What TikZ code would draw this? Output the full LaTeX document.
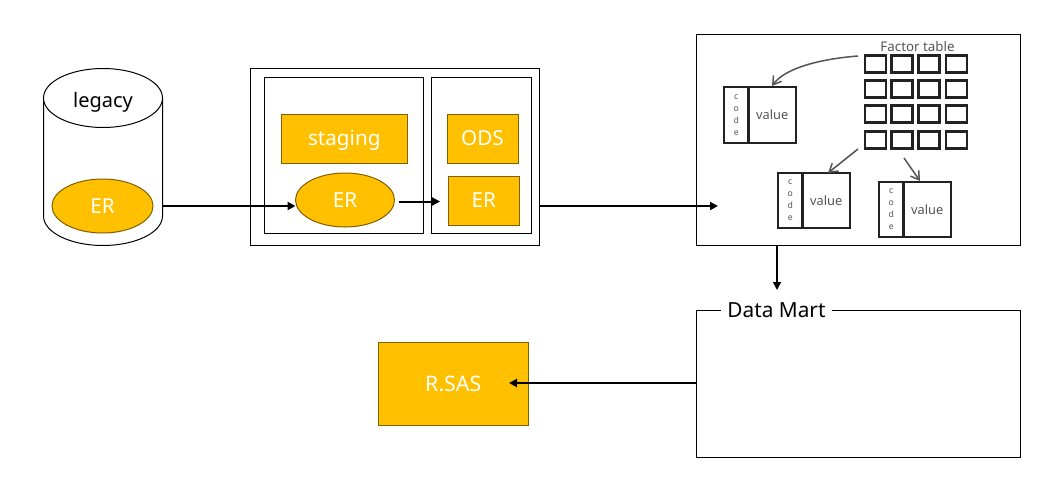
\documentclass[tikz,border=0pt]{standalone}
\usepackage{fontspec}
\setmainfont{Noto Sans}
\usetikzlibrary{arrows.meta,shapes.geometric}
\definecolor{amber}{HTML}{FFC000}
\definecolor{amberline}{HTML}{7F6000}
\definecolor{ink}{HTML}{222222}
\definecolor{soft}{HTML}{555555}
\def\px{0.75pt}
\tikzset{
  x=0.75pt,y=-0.75pt,
  frame/.style={draw=black,fill=white,line width=1*\px,inner sep=0pt,outer sep=0pt},
  ambox/.style={draw=amberline,fill=amber,line width=1*\px,text=white,inner sep=0pt,outer sep=0pt,font=\fontsize{15.5}{18}\selectfont,text height=11pt,text depth=0pt},
  amell/.style={ambox,ellipse},
  flow/.style={draw=black,line width=2*\px,-{Triangle[length=8*\px,width=8*\px]}},
  thinflow/.style={flow,line width=1.5*\px},
  grid cell/.style={draw=ink,line width=2.5*\px,fill=white,inner sep=0pt,outer sep=0pt,minimum width=21*\px,minimum height=17*\px},
  tcell/.style={draw=ink,line width=2.4*\px,fill=white,inner sep=0pt,outer sep=0pt,minimum height=55.5*\px},
  sketch/.style={draw=soft,line width=1.5*\px,-{Straight Barb[length=8*\px,width=10*\px]}},
}
\newcommand{\valtable}[3]{%
  \node[tcell,minimum width=24.5*\px,text=soft,align=center,font=\fontsize{6.5}{9}\selectfont] (#1code) at (#2+12.25,#3) {c\\o\\d\\e};
  \node[tcell,minimum width=47.5*\px,text=soft,font=\fontsize{9.6}{11}\selectfont,anchor=west] (#1val) at (#1code.east) {value};
}
\begin{document}
\begin{tikzpicture}
\useasboundingbox (0,0) rectangle (1050,496);
% legacy cylinder
\draw[frame] (43.5,98) -- (43.5,216) .. controls (43.5,232.3) and (70.2,245.5) .. (103,245.5) .. controls (135.8,245.5) and (162.5,232.3) .. (162.5,216) -- (162.5,98);
\node[frame,ellipse,minimum width=119*\px,minimum height=59*\px,text=black,font=\fontsize{15}{18}\selectfont,text height=14.2pt,text depth=0pt] (legacy) at (103,98) {legacy};
\node[amell,minimum width=101*\px,minimum height=54*\px] (erA) at (102.5,206) {ER};
\coordinate (cylR) at (162,206);
% staging / ODS group
\node[frame,minimum width=289*\px,minimum height=177*\px] (outer) at (395,157) {};
\node[frame,minimum width=159*\px,minimum height=156*\px] (stageBox) at (344,155.5) {};
\node[frame,minimum width=100*\px,minimum height=156*\px] (odsBox) at (481.5,155.5) {};
\node[ambox,minimum width=126.5*\px,minimum height=49*\px] (staging) at (344.25,138.5) {staging};
\node[ambox,minimum width=71*\px,minimum height=49*\px] (ods) at (482.5,138.5) {ODS};
\node[amell,minimum width=99*\px,minimum height=54*\px] (erB) at (345,200) {ER};
\node[ambox,minimum width=71.5*\px,minimum height=49*\px] (erC) at (483.75,200.5) {ER};
\coordinate (erBout) at (399,201.5);
\coordinate (erCin) at (440,201.5);
\coordinate (outerOut) at (539,206);
% factor box
\node[frame,minimum width=324*\px,minimum height=211*\px] (factor) at (858.5,140) {};
\coordinate (factorIn) at (718,206);
\coordinate (factorBottom) at (777,245);
\coordinate (martTop) at (777,290);
\node[text=soft,font=\fontsize{10}{12}\selectfont,inner sep=0pt] (ftitle) at (917.5,46) {Factor table};
\foreach \r/\yy in {a/64,b/89,c/114,d/140}{
  \foreach \c/\xx in {1/875.5,2/902,3/929,4/956.5}{
    \node[grid cell] (g\r\c) at (\xx,\yy) {};
  }
}
\valtable{tA}{724}{115}
\valtable{tB}{778}{200.5}
\valtable{tC}{879}{209.5}
\coordinate (fa) at (858,56);
\coordinate (fb) at (858,149);
\coordinate (fc) at (904,158);
\coordinate (ta) at (772,86);
\coordinate (tb) at (828,173);
\coordinate (tc) at (920,181);
\draw[sketch] (fa) .. controls (820,59) and (785,68) .. (ta);
\draw[sketch] (fb) -- (tb);
\draw[sketch] (fc) -- (tc);
% data mart
\node[frame,minimum width=324*\px,minimum height=147*\px] (mart) at (858.5,384) {};
\node[fill=white,text=black,minimum width=111*\px,minimum height=20*\px,inner sep=0pt,font=\fontsize{15.6}{18}\selectfont] (martLabel) at (776.5,310) {Data Mart};
% R.SAS
\node[ambox,minimum width=149.5*\px,minimum height=82.5*\px,font=\fontsize{16}{18}\selectfont] (rsas) at (453.25,383.75) {R.SAS};
\coordinate (martL) at (696,383);
\coordinate (rsasIn) at (509,383);
% connectors
\draw[flow] (cylR) -- (erB.west |- cylR);
\draw[flow] (erBout) -- (erCin);
\draw[flow] (outerOut) -- (factorIn);
\draw[thinflow] (factorBottom) -- (martTop);
\draw[flow] (martL) -- (rsasIn);
\end{tikzpicture}
\end{document}
